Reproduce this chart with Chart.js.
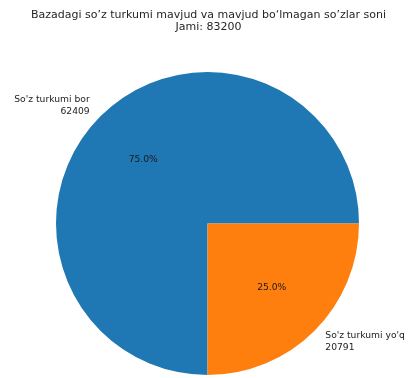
<!DOCTYPE html>
<html>
<head>
<meta charset="utf-8">
<script src="https://cdn.jsdelivr.net/npm/chart.js@4/dist/chart.umd.min.js"></script>
<style>
  html, body { margin: 0; padding: 0; background: #ffffff; }
  #wrap { width: 411px; height: 378px; position: relative; }
</style>
</head>
<body>
<div id="wrap"><canvas id="pie"></canvas></div>
<script>
// Word-class coverage in the database
const categories = ["So'z turkumi bor", "So'z turkumi yo'q"];
const counts = [62409, 20791];
const colors = ['#1f77b4', '#ff7f0e'];
const titleLines = [
  'Bazadagi so’z turkumi mavjud va mavjud bo‘lmagan so’zlar soni',
  'Jami: 83200'
];

const total = counts.reduce((a, b) => a + b, 0);

// Two-line heading, centred across the full canvas width
const heading = {
  id: 'heading',
  afterDraw(chart) {
    const ctx = chart.ctx;
    ctx.save();
    ctx.font = '11px "DejaVu Sans"';
    ctx.fillStyle = '#262626';
    ctx.textAlign = 'center';
    ctx.textBaseline = 'middle';
    const cx = chart.width / 2 + 3;
    titleLines.forEach((line, i) => ctx.fillText(line, cx, 15 + i * 12.2));
    ctx.restore();
  }
};

// Draws the outer category labels (name + count) and the inner percentages
const sliceLabels = {
  id: 'sliceLabels',
  afterDatasetsDraw(chart) {
    const ctx = chart.ctx;
    const arcs = chart.getDatasetMeta(0).data;
    const fontSize = 9.2;
    ctx.save();
    ctx.font = fontSize + 'px "DejaVu Sans"';
    arcs.forEach((arc, i) => {
      const mid = (arc.startAngle + arc.endAngle) / 2;
      const r = arc.outerRadius;
      const cx = arc.x, cy = arc.y;
      const dx = Math.cos(mid), dy = Math.sin(mid);

      // percentage inside the slice
      const pct = (counts[i] / total * 100).toFixed(1) + '%';
      ctx.fillStyle = '#1a1a1a';
      ctx.textAlign = 'center';
      ctx.textBaseline = 'middle';
      ctx.fillText(pct, cx + dx * r * 0.6, cy + dy * r * 0.6);

      // category name and count outside the slice
      const lx = cx + dx * r * 1.1;
      const ly = cy + dy * r * 1.1;
      const lh = fontSize * 1.25;
      ctx.fillStyle = '#222222';
      ctx.textAlign = dx < 0 ? 'right' : 'left';
      ctx.fillText(categories[i], lx, ly - lh / 2);
      ctx.fillText(String(counts[i]), lx, ly + lh / 2);
    });
    ctx.restore();
  }
};

new Chart(document.getElementById('pie'), {
  type: 'pie',
  data: {
    labels: categories,
    datasets: [{
      data: counts,
      backgroundColor: colors,
      borderWidth: 0,
      hoverOffset: 0
    }]
  },
  options: {
    responsive: true,
    maintainAspectRatio: false,
    animation: false,
    rotation: 180,
    layout: { padding: { left: 56, right: 52, top: 72, bottom: 3 } },
    plugins: {
      legend: { display: false },
      tooltip: { enabled: false },
      title: { display: false }
    }
  },
  plugins: [sliceLabels, heading]
});
</script>
</body>
</html>
